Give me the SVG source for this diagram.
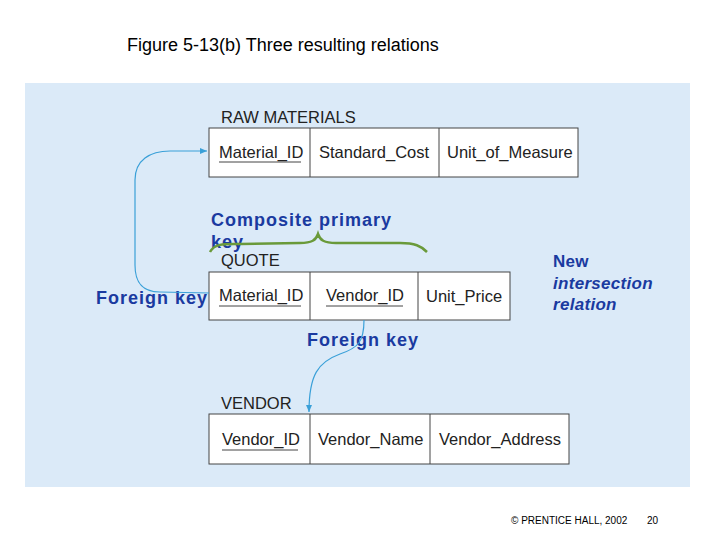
<svg xmlns="http://www.w3.org/2000/svg" width="720" height="540" viewBox="0 0 720 540">
<style>
.t{font-family:"Liberation Sans",Arial,sans-serif;font-size:16.5px;fill:#222}
.h{font-family:"Liberation Sans",Arial,sans-serif;font-size:16.5px;fill:#222}
.b{font-family:"Liberation Sans",Arial,sans-serif;font-size:18px;font-weight:bold;fill:#1a3aa0;letter-spacing:1px}
.i{font-family:"Liberation Sans",Arial,sans-serif;font-size:17px;font-weight:bold;fill:#1a3aa0;letter-spacing:0.3px}
.box{fill:#fff;stroke:#444;stroke-width:1}
.ln{stroke:#444;stroke-width:1}
.u{stroke:#444;stroke-width:1}
.c{fill:none;stroke:#3aa0d8;stroke-width:1.2}
</style>
<defs><marker id="a" markerWidth="8" markerHeight="8" refX="7" refY="4" orient="auto" markerUnits="userSpaceOnUse"><path d="M0,1 L7,4 L0,7 z" fill="#3aa0d8"/></marker></defs>
<rect width="720" height="540" fill="#fff"/>
<text x="127" y="51" font-family="Liberation Sans,Arial,sans-serif" font-size="18" fill="#000">Figure 5-13(b) Three resulting relations</text>
<rect x="25" y="83" width="665" height="404" fill="#dbeaf8"/>
<g id="raw">
<text class="h" x="221" y="123">RAW MATERIALS</text>
<rect class="box" x="209" y="128" width="369" height="49"/>
<line class="ln" x1="310" y1="128" x2="310" y2="177"/><line class="ln" x1="439" y1="128" x2="439" y2="177"/>
<text class="t" x="219" y="158">Material_ID</text><line class="u" x1="219" y1="162" x2="301" y2="162"/>
<text class="t" x="319" y="158">Standard_Cost</text>
<text class="t" x="447" y="158">Unit_of_Measure</text>
</g>
<g id="quote">
<text class="h" x="221" y="266">QUOTE</text>
<rect class="box" x="209" y="272" width="301" height="48"/>
<line class="ln" x1="310" y1="272" x2="310" y2="320"/><line class="ln" x1="418" y1="272" x2="418" y2="320"/>
<text class="t" x="219" y="301">Material_ID</text><line class="u" x1="219" y1="306" x2="301" y2="306"/>
<text class="t" x="326" y="301">Vendor_ID</text><line class="u" x1="326" y1="306" x2="403" y2="306"/>
<text class="t" x="426" y="302">Unit_Price</text>
</g>
<g id="vendor">
<text class="h" x="221" y="409">VENDOR</text>
<rect class="box" x="209" y="414" width="360" height="50"/>
<line class="ln" x1="310" y1="414" x2="310" y2="464"/><line class="ln" x1="430" y1="414" x2="430" y2="464"/>
<text class="t" x="222" y="445">Vendor_ID</text><line class="u" x1="222" y1="450" x2="298" y2="450"/>
<text class="t" x="318" y="445">Vendor_Name</text>
<text class="t" x="439" y="445">Vendor_Address</text>
</g>
<g id="labels">
<text class="b" x="211" y="226">Composite primary</text>
<text class="b" x="211" y="248">key</text>
<text class="b" x="96" y="304">Foreign key</text>
<text class="b" x="307" y="346">Foreign key</text>
<text class="i" x="553" y="267">New</text>
<text class="i" x="553" y="289" font-style="italic">intersection</text>
<text class="i" x="553" y="310" font-style="italic">relation</text>
</g>
<g id="connectors">
<path class="c" d="M209,293 L160,292 C140,292 135,280 135,265 L135,180 C135,160 150,151 170,151 L207,151" marker-end="url(#a)"/>
<path class="c" d="M364,320 C364,342 358,348 340,354 C318,362 309,375 309,412" marker-end="url(#a)"/>
<path d="M210,252 C215,243 225,244 240,244 L300,243 C312,243 316,240 318,234 C320,240 324,243 336,243 L400,243 C415,243 421,246 427,252" fill="none" stroke="#6a9a3a" stroke-width="2.5"/>
</g>
<text x="511" y="524" font-family="Liberation Sans,Arial,sans-serif" font-size="10" fill="#000">© PRENTICE HALL, 2002</text>
<text x="647" y="524" font-family="Liberation Sans,Arial,sans-serif" font-size="10" fill="#000">20</text>
</svg>
